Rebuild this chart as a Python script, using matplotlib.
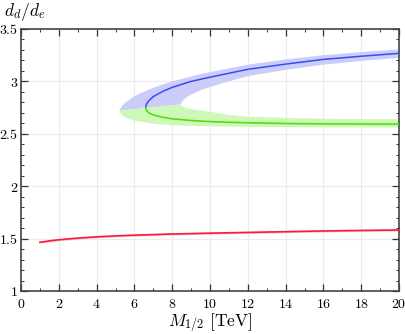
import matplotlib
matplotlib.use("Agg")
import matplotlib.pyplot as plt
import numpy as np
from matplotlib.ticker import MultipleLocator, FuncFormatter

plt.rcParams['mathtext.fontset'] = 'cm'
plt.rcParams['font.family'] = ['DejaVu Serif']

# ---- data ----
# red curve (with thin band)
red_x = [1, 1.5, 2, 3, 4, 5, 6, 8, 10, 12, 14, 16, 18, 20]
red_y = [1.465, 1.478, 1.489, 1.505, 1.517, 1.526, 1.533, 1.544, 1.552, 1.559, 1.566, 1.573, 1.578, 1.582]
red_err = [0.009] * len(red_x)

# blue (upper) branch centre line
blue_x = [6.6, 6.61, 6.64, 6.7, 6.8, 7.0, 7.5, 8.0, 9.0, 10.0, 12.0, 14.0, 16.0, 18.0, 20.0]
blue_y = [2.75, 2.765, 2.783, 2.80, 2.822, 2.855, 2.905, 2.943, 3.0, 3.04, 3.115, 3.165, 3.21, 3.24, 3.268]
# green (lower) branch centre line
green_x = [6.6, 6.61, 6.64, 6.7, 6.8, 7.0, 7.5, 8.0, 9.0, 10.0, 12.0, 14.0, 16.0, 18.0, 20.0]
green_y = [2.75, 2.738, 2.724, 2.71, 2.696, 2.68, 2.658, 2.643, 2.627, 2.616, 2.605, 2.598, 2.595, 2.593, 2.592]

# band boundaries
blue_outer_x = [5.2, 5.3, 5.5, 6.0, 7.0, 8.0, 9.5, 12.0, 14.0, 16.0, 18.0, 20.0]
blue_outer_y = [2.72, 2.755, 2.795, 2.86, 2.94, 3.0, 3.07, 3.16, 3.21, 3.25, 3.28, 3.305]
blue_inner_x = [8.45, 8.55, 8.75, 9.0, 9.5, 10.5, 12.0, 14.0, 16.0, 18.0, 20.0]
blue_inner_y = [2.78, 2.815, 2.848, 2.875, 2.915, 2.975, 3.05, 3.11, 3.16, 3.195, 3.225]
green_outer_x = [5.2, 5.3, 5.5, 6.0, 7.0, 8.0, 10.0, 12.0, 16.0, 20.0]
green_outer_y = [2.72, 2.685, 2.655, 2.625, 2.597, 2.582, 2.571, 2.566, 2.562, 2.56]
green_inner_x = [8.45, 8.6, 9.0, 10.0, 11.0, 12.0, 14.0, 16.0, 18.0, 20.0]
green_inner_y = [2.78, 2.755, 2.735, 2.71, 2.68, 2.663, 2.652, 2.645, 2.64, 2.638]

x_ticks = [0, 2, 4, 6, 8, 10, 12, 14, 16, 18, 20]
y_ticks = [1, 1.5, 2, 2.5, 3, 3.5]

fig = plt.figure(figsize=(4.05, 3.34), dpi=100)
ax = fig.add_axes([21/405, 1-291/334, (399-21)/405, (291-29)/334])

# bands
ax.fill(blue_outer_x + blue_inner_x[::-1], blue_outer_y + blue_inner_y[::-1],
        color='#ccccfa', lw=0, zorder=2)
ax.fill(green_outer_x + green_inner_x[::-1], green_outer_y + green_inner_y[::-1],
        color='#cdf8b8', lw=0, zorder=2)
ry = np.array(red_y); re = np.array(red_err)
ax.fill_between(red_x, ry - re, ry + re, color='#f8b8cc', lw=0, zorder=2)

# lines
ax.plot(blue_x, blue_y, color='#3a4df0', lw=1.1, zorder=3)
ax.plot(green_x, green_y, color='#55dd11', lw=1.2, zorder=3)
ax.plot(red_x, red_y, color='#ff1a3a', lw=1.2, zorder=3)

ax.set_xlim(0, 20)
ax.set_ylim(1, 3.5)
ax.set_xticks(x_ticks)
ax.set_yticks(y_ticks)
ax.xaxis.set_minor_locator(MultipleLocator(1))
ax.yaxis.set_minor_locator(MultipleLocator(0.1))
fmt = FuncFormatter(lambda v, p: r'$%g$' % v)
ax.xaxis.set_major_formatter(fmt)
ax.yaxis.set_major_formatter(fmt)
ax.tick_params(which='both', direction='in', top=True, right=True, colors='#333333',
               labelcolor='black', labelsize=10)
ax.tick_params(which='major', length=5, width=0.9)
ax.tick_params(which='minor', length=2.5, width=0.7)
ax.tick_params(axis='x', pad=4)
ax.tick_params(axis='y', pad=2)
ax.grid(True, which='major', color='#ebebeb', lw=0.8, zorder=0)
ax.set_axisbelow(True)
for s in ax.spines.values():
    s.set_color('#444444')
    s.set_linewidth(1.2)

fig.text(0.5 * (21 + 399) / 405, 1 - 323/334, r'$M_{1/2}\ [\mathrm{TeV}]$', ha='center', va='center', fontsize=12.5)
fig.text(4/405, 1 - 12/334, r'$d_d/d_e$', ha='left', va='center', fontsize=12.5)

fig.savefig('out.png', dpi=100)
